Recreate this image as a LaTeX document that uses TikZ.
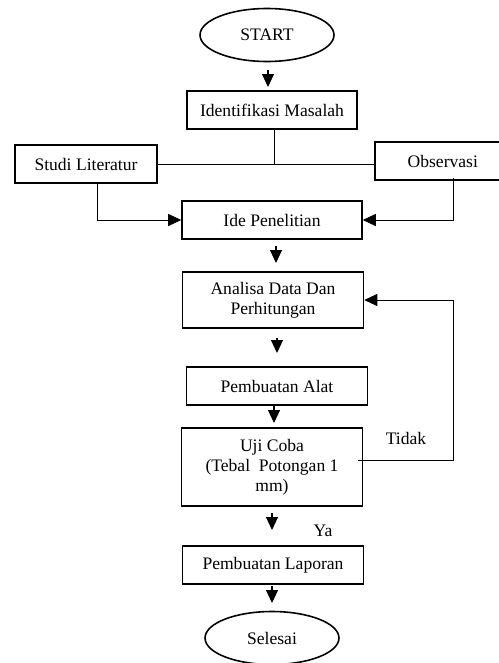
\documentclass[tikz,border=0pt]{standalone}
\usepackage{fontspec}
\setmainfont{Liberation Serif}
\usetikzlibrary{shapes.geometric,arrows.meta}
\tikzset{
  kotak/.style={draw, line width=0.9pt, minimum height=0.76cm, align=center, inner sep=2pt},
  oval/.style={draw, ellipse, line width=0.9pt, minimum width=2.68cm, minimum height=1.06cm},
  pijl/.style={line width=0.6pt, -{Triangle[length=0.26cm,width=0.24cm]}},
  garis/.style={line width=0.5pt}
}
\begin{document}
\begin{tikzpicture}[x=0.02cm, y=-0.02cm, font=\fontsize{10}{11.5}\selectfont]
        \useasboundingbox (0,0) rectangle (498,663);
        %start dan selesai
        \node[oval] (start) at (267,35) {START};
        \node[oval] (selesai) at (272,638) {Selesai};
        %kotak
        \node[kotak, minimum width=3.4cm] (identifikasi) at (272,110) {Identifikasi Masalah};
        \node[kotak, minimum width=2.84cm] (studi) at (86,164) {Studi Literatur};
        \node[kotak, minimum width=2.72cm, anchor=west] (observasi) at (374,161) {Observasi};
        \node[kotak, minimum width=3.6cm] (ide) at (272,220) {Ide Penelitian};
        \node[kotak, minimum width=3.62cm, minimum height=1.12cm] (analisa) at (273,300) {Analisa Data Dan\\Perhitungan};
        \node[kotak, minimum width=3.62cm] (alat) at (277,386) {Pembuatan Alat};
        \node[kotak, minimum width=3.62cm, minimum height=1.56cm] (uji) at (272,467) {Uji Coba\\(Tebal \ Potongan 1\\mm)};
        \node[kotak, minimum width=3.62cm] (laporan) at (273,565) {Pembuatan Laporan};
        %label
        \node (tidak) at (406,438) {Tidak};
        \node (ya) at (323,531) {Ya};
        %panah pendek
        \coordinate (p1a) at (268,70);  \coordinate (p1b) at (268,87);
        \coordinate (p2a) at (276,246); \coordinate (p2b) at (276,263);
        \coordinate (p3a) at (277,338); \coordinate (p3b) at (277,353);
        \coordinate (p4a) at (274,406); \coordinate (p4b) at (274,423);
        \coordinate (p5a) at (272,513); \coordinate (p5b) at (272,530);
        \coordinate (p6a) at (272,586); \coordinate (p6b) at (272,603);
        \foreach \i in {1,...,6}
          \draw[pijl] (p\i a) -- (p\i b);
        %garis cabang
        \coordinate (simpang) at (274,164);
        \draw[garis] (identifikasi.south -| simpang) -- (simpang);
        \draw[garis] (studi.east) -- (observasi.west |- simpang);
        \draw[pijl, line width=0.5pt] (97,183) |- (ide.west);
        \draw[pijl, line width=0.5pt] (453,178) |- (ide.east);
        %umpan balik
        \coordinate (balik) at (453,460);
        \draw[pijl, line width=0.5pt] (uji.east |- balik) ++(-5,0) -- (balik) |- (analisa.east);
    \end{tikzpicture}
\end{document}
